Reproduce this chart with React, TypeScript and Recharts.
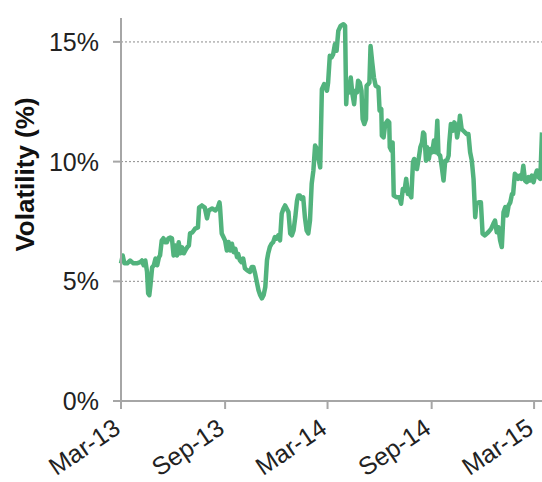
import React from 'react';
import { LineChart, Line, XAxis, YAxis, CartesianGrid, Label } from 'recharts';

// days after 1 Mar 2013
const days = [
  0, 3, 6, 11, 16, 22, 28, 34, 37, 40, 43, 46, 48, 50, 52, 55, 58, 61, 64, 67,
  69, 72, 75, 78, 81, 84, 87, 90, 93, 96, 99, 102, 105, 108, 111, 114, 117, 120, 122, 126,
  131, 136, 138, 143, 148, 152, 155, 161, 167, 171, 174, 175, 178, 181, 184, 187, 190, 193, 196, 199,
  202, 205, 207, 210, 213, 216, 219, 223, 228, 231, 234, 237, 240, 243, 246, 249, 252, 255, 258, 260,
  263, 266, 269, 272, 275, 278, 281, 284, 287, 290, 293, 296, 299, 302, 305, 308, 311, 313, 316, 319,
  322, 325, 328, 331, 334, 337, 340, 343, 346, 349, 352, 355, 359, 364, 366, 369, 372, 375, 378, 381,
  384, 388, 393, 396, 398, 400, 403, 406, 409, 412, 414, 417, 419, 422, 425, 427, 430, 433, 434, 437,
  439, 441, 444, 447, 450, 455, 457, 460, 461, 464, 467, 471, 474, 475, 478, 480, 482, 487, 492, 495,
  498, 501, 504, 507, 510, 513, 516, 518, 523, 526, 529, 532, 534, 536, 539, 541, 544, 547, 550, 553,
  556, 559, 561, 564, 567, 570, 573, 576, 579, 580, 583, 586, 589, 592, 594, 597, 599, 602, 605, 611,
  614, 617, 620, 623, 626, 628, 632, 636, 639, 643, 649, 654, 658, 661, 664, 667, 670, 673, 676, 679,
  682, 685, 688, 691, 693, 696, 699, 702, 705, 708, 711, 714, 717, 720, 723, 726, 729, 732, 735, 738,
  741, 744,
];

// annualised volatility, %
const volatility = [
  5.75, 6.08, 5.75, 5.75, 5.87, 5.75, 5.75, 5.8, 5.87, 5.67, 5.87, 5.4, 4.5, 4.42, 4.83, 5.58, 5.67, 5.95, 5.67, 6.0,
  6.08, 6.7, 6.8, 6.63, 6.63, 6.8, 6.83, 6.8, 6.08, 6.5, 6.08, 6.63, 6.17, 6.42, 6.17, 6.3, 6.42, 6.5, 7.0, 7.04,
  7.2, 7.25, 8.08, 8.17, 8.08, 7.63, 7.96, 8.04, 7.96, 8.08, 8.3, 8.1, 7.0, 6.85, 6.7, 6.29, 6.64, 6.29, 6.57, 6.22,
  6.36, 6.01, 6.15, 5.88, 5.8, 5.95, 5.54, 5.46, 5.39, 5.6, 5.6, 5.32, 4.97, 4.63, 4.42, 4.29, 4.42, 4.76, 5.88, 6.15,
  6.43, 6.57, 6.64, 6.85, 6.78, 6.92, 6.71, 7.82, 8.03, 8.17, 8.03, 7.89, 7.0, 6.92, 7.13, 7.68, 8.36, 8.58, 8.58, 8.44,
  8.51, 7.68, 7.13, 7.0, 7.54, 9.08, 9.63, 10.67, 10.54, 10.13, 9.76, 13.03, 13.24, 12.96, 13.3, 14.42, 14.35, 14.49, 14.9, 14.63,
  15.46, 15.67, 15.74, 15.67, 12.4, 13.3, 12.89, 13.51, 12.82, 12.4, 12.96, 12.89, 13.38, 13.3, 12.96, 11.78, 11.57, 11.78, 13.17, 13.24,
  13.3, 14.83, 14.14, 13.51, 13.17, 13.1, 12.13, 12.2, 11.08, 11.01, 11.57, 11.71, 11.64, 10.6, 10.46, 10.8, 8.58, 8.51, 8.51, 8.24,
  8.86, 8.79, 9.28, 8.65, 8.65, 8.51, 9.97, 10.11, 9.69, 10.11, 10.6, 10.8, 11.22, 11.15, 10.04, 10.6, 10.11, 10.53, 10.39, 10.88,
  10.39, 11.71, 10.32, 10.25, 9.76, 9.21, 10.04, 10.04, 10.25, 10.74, 11.57, 11.29, 11.64, 11.5, 11.01, 11.43, 11.92, 11.36, 11.29, 11.15,
  11.15, 10.39, 10.04, 9.28, 7.68, 8.24, 8.3, 8.3, 6.99, 6.92, 7.05, 7.19, 7.4, 7.54, 7.05, 7.26, 6.71, 6.43, 7.89, 8.1,
  7.75, 8.17, 8.3, 8.65, 8.65, 9.49, 9.42, 9.28, 9.42, 9.28, 9.83, 9.21, 9.14, 9.35, 9.21, 9.42, 9.14, 9.42, 9.63, 9.35,
  9.28, 11.22,
];

const xTicks = [0, 184, 365, 549, 730];
const xTickLabels = ['Mar-13', 'Sep-13', 'Mar-14', 'Sep-14', 'Mar-15'];
const yTicks = [0, 5, 10, 15];

const data = days.map((d, i) => ({ day: d, vol: volatility[i] }));

const FONT = '"Liberation Sans", Arial, sans-serif';

const DateTick = (props: any) => {
  const { x, y, payload } = props;
  const label = xTickLabels[xTicks.indexOf(payload.value)];
  return (
    <g transform={`translate(${x + 1},${y + 21})`}>
      <text x={0} y={0} textAnchor="end" transform="rotate(-34)" fill="#222" fontSize={25} fontFamily={FONT}>
        {label}
      </text>
    </g>
  );
};

const AxisTitle = (props: any) => {
  const { viewBox } = props;
  const cx = viewBox.x + 25;
  const cy = viewBox.y + viewBox.height / 2 - 35;
  return (
    <text x={cx} y={cy} transform={`rotate(-90 ${cx} ${cy})`} textAnchor="middle" dominantBaseline="central"
      fontSize={26} fontWeight="bold" fontFamily={FONT} fill="#111">
      Volatility (%)
    </text>
  );
};

export default function App() {
  return (
    <div style={{ position: 'absolute', left: 0, top: 0, background: '#fff' }}>
      <LineChart width={542} height={482} data={data} margin={{ top: 18, right: 0, bottom: 0, left: 0 }}>
        <CartesianGrid vertical={false} stroke="#8c8c8c" strokeDasharray="2 2" horizontalValues={[5, 10, 15]} />
        <XAxis
          dataKey="day"
          type="number"
          domain={[0, 744]}
          ticks={xTicks}
          interval={0}
          height={81}
          stroke="#a6a6a6"
          strokeWidth={2}
          tickSize={8}
          tick={<DateTick />}
        />
        <YAxis
          type="number"
          domain={[0, 16]}
          ticks={yTicks}
          width={121}
          stroke="#a6a6a6"
          strokeWidth={2}
          tickSize={8}
          tickMargin={14}
          tickFormatter={(v: number) => `${v}%`}
          tick={{ fill: '#222', fontSize: 25, fontFamily: FONT }}
        >
          <Label content={<AxisTitle />} />
        </YAxis>
        <Line
          type="linear"
          dataKey="vol"
          stroke="#52b37d"
          strokeWidth={4.5}
          dot={false}
          isAnimationActive={false}
          strokeLinejoin="round"
        />
      </LineChart>
    </div>
  );
}
